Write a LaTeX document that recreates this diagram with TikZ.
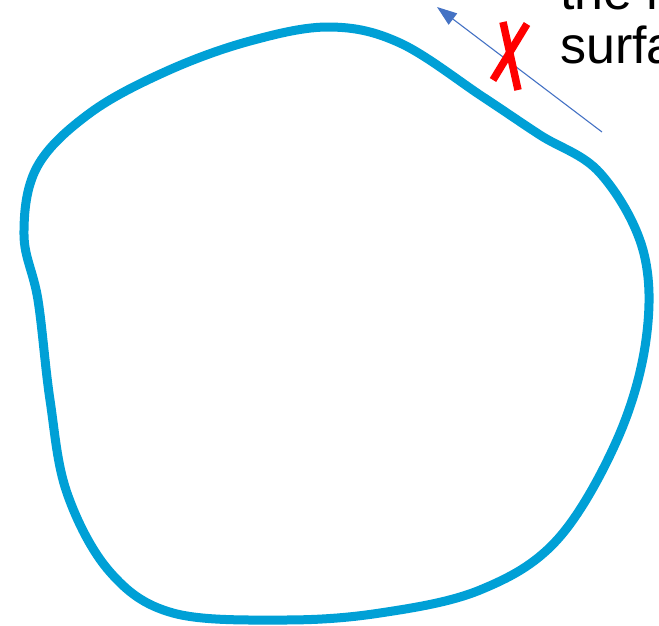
\documentclass[tikz,border=0pt]{standalone}
\usepackage{fontspec}
\setmainfont{Liberation Sans}
\usetikzlibrary{arrows.meta}
\definecolor{blobblue}{RGB}{0,160,214}
\definecolor{arrowblue}{RGB}{68,114,196}
\definecolor{crossred}{RGB}{255,0,0}
\begin{document}
\begin{tikzpicture}[x=1pt,y=-1pt,
  blob/.style={draw=blobblue,line width=9pt},
  pointer/.style={draw=arrowblue,line width=1.1pt,-{Triangle[length=20pt,width=14pt]}},
  crossline/.style={draw=crossred,line width=7.5pt},
  label/.style={font=\fontsize{52}{54}\selectfont,text=black,anchor=base west,inner sep=0pt}]
\useasboundingbox (0,0) rectangle (659,625);
\clip (0,0) rectangle (659,625);
\path[blob] plot[smooth cycle,tension=0.6] coordinates {
 (330,27) (400,43) (483,97) (540,135) (600,173) (643,250) (646,340) (617,440)
 (557,540) (480,590) (380,613) (283,620) (173,613) (110,572) (67,493) (50,400)
 (38,300) (24,235) (37,167) (90,113) (167,71) (250,41)};
\coordinate (tail) at (602,132);
\coordinate (tip) at (437,7);
\path[pointer] (tail) -- (tip);
\coordinate (c1a) at (527,24);
\coordinate (c1b) at (493,80);
\coordinate (c2a) at (503,22);
\coordinate (c2b) at (518,90);
\path[crossline] (c1a) -- (c1b);
\path[crossline] (c2a) -- (c2b);
\node[label] (l1) at (560,9) {the r};
\node[label] (l2) at (560,63) {surfa};
\end{tikzpicture}
\end{document}
